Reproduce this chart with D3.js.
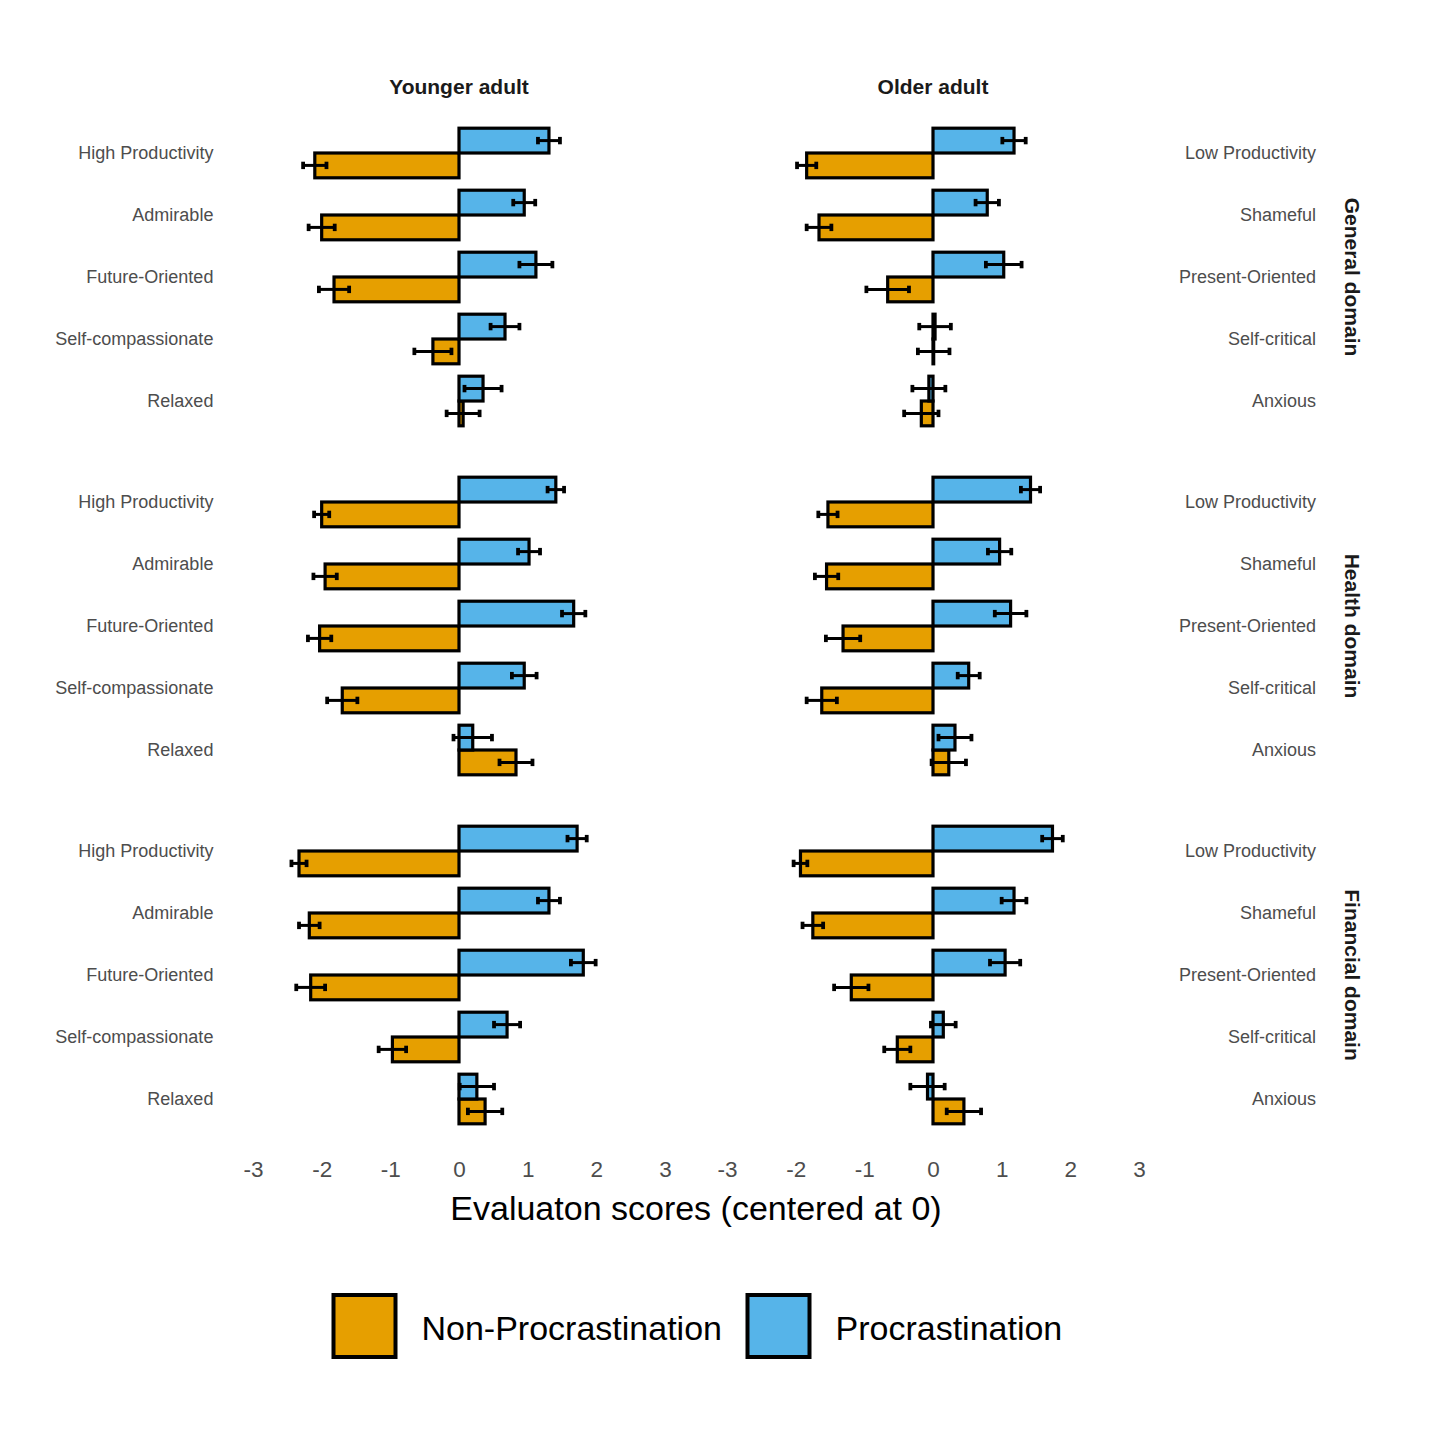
<!DOCTYPE html>
<html>
<head>
<meta charset="utf-8">
<script src="https://cdn.jsdelivr.net/npm/d3@7"></script>
<style>
  body { margin: 0; background: #fff; }
  text { font-family: "Liberation Sans", Arial, sans-serif; }
</style>
</head>
<body>
<script>
// categories
var ages = ["Younger adult", "Older adult"];
var domains = ["General domain", "Health domain", "Financial domain"];
var catsYoung = ["High Productivity", "Admirable", "Future-Oriented", "Self-compassionate", "Relaxed"];
var catsOld = ["Low Productivity", "Shameful", "Present-Oriented", "Self-critical", "Anxious"];
var groups = ["Non-Procrastination", "Procrastination"];
var xTicks = [-3, -2, -1, 0, 1, 2, 3];

// values per domain (general, health, financial), one entry per category
var nonProcYoung = [
  [-2.10, -2.00, -1.82, -0.38, 0.06],
  [-2.00, -1.95, -2.03, -1.70, 0.83],
  [-2.33, -2.18, -2.16, -0.97, 0.38]
];
var seNonProcYoung = [
  [0.17, 0.19, 0.22, 0.27, 0.24],
  [0.11, 0.17, 0.17, 0.22, 0.24],
  [0.11, 0.15, 0.21, 0.20, 0.25]
];
var procYoung = [
  [1.31, 0.95, 1.12, 0.67, 0.35],
  [1.41, 1.02, 1.67, 0.95, 0.20],
  [1.72, 1.31, 1.81, 0.70, 0.26]
];
var seProcYoung = [
  [0.16, 0.16, 0.24, 0.21, 0.27],
  [0.12, 0.16, 0.17, 0.18, 0.28],
  [0.14, 0.16, 0.18, 0.19, 0.25]
];
var nonProcOld = [
  [-1.84, -1.66, -0.66, 0.01, -0.17],
  [-1.53, -1.55, -1.31, -1.62, 0.23],
  [-1.93, -1.75, -1.19, -0.52, 0.45]
];
var seNonProcOld = [
  [0.14, 0.18, 0.31, 0.23, 0.25],
  [0.14, 0.17, 0.25, 0.22, 0.25],
  [0.10, 0.15, 0.25, 0.19, 0.25]
];
var procOld = [
  [1.18, 0.79, 1.03, 0.03, -0.06],
  [1.42, 0.97, 1.13, 0.52, 0.32],
  [1.74, 1.18, 1.05, 0.15, -0.08]
];
var seProcOld = [
  [0.17, 0.17, 0.26, 0.23, 0.24],
  [0.14, 0.17, 0.23, 0.16, 0.24],
  [0.15, 0.18, 0.22, 0.18, 0.25]
];

var colors = {"Non-Procrastination": "#E69F00", "Procrastination": "#56B4E9"};

var width = 1440, height = 1440;
var panelW = 453.2, panelH = 322.4;
var panelLeft = [232.4, 706.4];
var panelTop = [115.8, 464.8, 813.8];

var svg = d3.select("body").append("svg")
  .attr("width", width)
  .attr("height", height);

var xs = panelLeft.map(function(l) {
  return d3.scaleLinear().domain([-3.3, 3.3]).range([l, l + panelW]);
});

// build rows
function rows(cats, nonProc, seNon, proc, seProc, di) {
  var out = [];
  cats.forEach(function(c, i) {
    out.push({cat: c, group: "Non-Procrastination", v: nonProc[di][i], se: seNon[di][i]});
    out.push({cat: c, group: "Procrastination", v: proc[di][i], se: seProc[di][i]});
  });
  return out;
}

domains.forEach(function(dom, di) {
  var top = panelTop[di];
  [0, 1].forEach(function(ai) {
    var cats = ai === 0 ? catsYoung : catsOld;
    var data = ai === 0
      ? rows(catsYoung, nonProcYoung, seNonProcYoung, procYoung, seProcYoung, di)
      : rows(catsOld, nonProcOld, seNonProcOld, procOld, seProcOld, di);
    var x = xs[ai];
    var y = d3.scalePoint().domain(cats).range([top, top + panelH]).padding(0.6);
    var step = y.step();
    var sub = d3.scaleBand().domain(["Procrastination", "Non-Procrastination"])
      .range([-0.4 * step, 0.4 * step]);

    var g = svg.append("g");

    // bars
    g.selectAll("rect.bar")
      .data(data)
      .enter().append("rect")
      .attr("class", "bar")
      .attr("x", function(d) { return x(Math.min(0, d.v)); })
      .attr("width", function(d) { return Math.abs(x(d.v) - x(0)); })
      .attr("y", function(d) { return y(d.cat) + sub(d.group); })
      .attr("height", sub.bandwidth())
      .attr("fill", function(d) { return colors[d.group]; })
      .attr("stroke", "#000")
      .attr("stroke-width", 3.2);

    // error bars
    var eb = g.selectAll("g.err")
      .data(data)
      .enter().append("g")
      .attr("class", "err")
      .attr("transform", function(d) {
        return "translate(0," + (y(d.cat) + sub(d.group) + sub.bandwidth() / 2) + ")";
      });
    eb.append("line")
      .attr("x1", function(d) { return x(d.v - d.se); })
      .attr("x2", function(d) { return x(d.v + d.se); })
      .attr("stroke", "#000").attr("stroke-width", 3);
    eb.append("line")
      .attr("x1", function(d) { return x(d.v - d.se); })
      .attr("x2", function(d) { return x(d.v - d.se); })
      .attr("y1", -3.7).attr("y2", 3.7)
      .attr("stroke", "#000").attr("stroke-width", 3.8);
    eb.append("line")
      .attr("x1", function(d) { return x(d.v + d.se); })
      .attr("x2", function(d) { return x(d.v + d.se); })
      .attr("y1", -3.7).attr("y2", 3.7)
      .attr("stroke", "#000").attr("stroke-width", 3.8);

    // category labels
    var yAxis = d3.axisLeft(y).tickSize(0).tickPadding(ai === 0 ? 19 : 0);
    var ag = svg.append("g")
      .attr("transform", "translate(" + (ai === 0 ? panelLeft[0] : 1316) + ",0)")
      .call(yAxis);
    ag.select(".domain").remove();
    ag.selectAll("text")
      .attr("font-family", "Liberation Sans, Arial, sans-serif")
      .attr("font-size", 18)
      .attr("fill", "#4D4D4D");
  });

  // right strip
  svg.append("text")
    .attr("transform", "translate(1352," + (top + panelH / 2) + ") rotate(90)")
    .attr("text-anchor", "middle")
    .attr("dominant-baseline", "central")
    .attr("font-size", 21)
    .attr("font-weight", "bold")
    .attr("fill", "#1A1A1A")
    .text(dom);
});

// top strips
ages.forEach(function(a, ai) {
  svg.append("text")
    .attr("x", xs[ai](0))
    .attr("y", 86)
    .attr("text-anchor", "middle")
    .attr("dominant-baseline", "central")
    .attr("font-size", 21)
    .attr("font-weight", "bold")
    .attr("fill", "#1A1A1A")
    .text(a);
});

// x axes
xs.forEach(function(x) {
  var xg = svg.append("g")
    .attr("transform", "translate(0," + (panelTop[2] + panelH) + ")")
    .call(d3.axisBottom(x).tickValues(xTicks).tickSize(0).tickPadding(25)
      .tickFormat(function(d) { return d < 0 ? "-" + Math.abs(d) : d; }));
  xg.select(".domain").remove();
  xg.selectAll("text")
    .attr("font-family", "Liberation Sans, Arial, sans-serif")
    .attr("font-size", 22.5)
    .attr("fill", "#4D4D4D");
});

svg.append("text")
  .attr("x", (panelLeft[0] + panelLeft[1] + panelW) / 2)
  .attr("y", 1220)
  .attr("text-anchor", "middle")
  .attr("font-size", 34)
  .attr("fill", "#000")
  .text("Evaluaton scores (centered at 0)");

// legend
var legX = [333.5, 747.5];
groups.forEach(function(gname, i) {
  svg.append("rect")
    .attr("x", legX[i]).attr("y", 1295)
    .attr("width", 62).attr("height", 62)
    .attr("fill", colors[gname])
    .attr("stroke", "#000")
    .attr("stroke-width", 4);
  svg.append("text")
    .attr("x", legX[i] + 88)
    .attr("y", 1340)
    .attr("font-size", 34)
    .attr("fill", "#000")
    .text(gname);
});
</script>
</body>
</html>
